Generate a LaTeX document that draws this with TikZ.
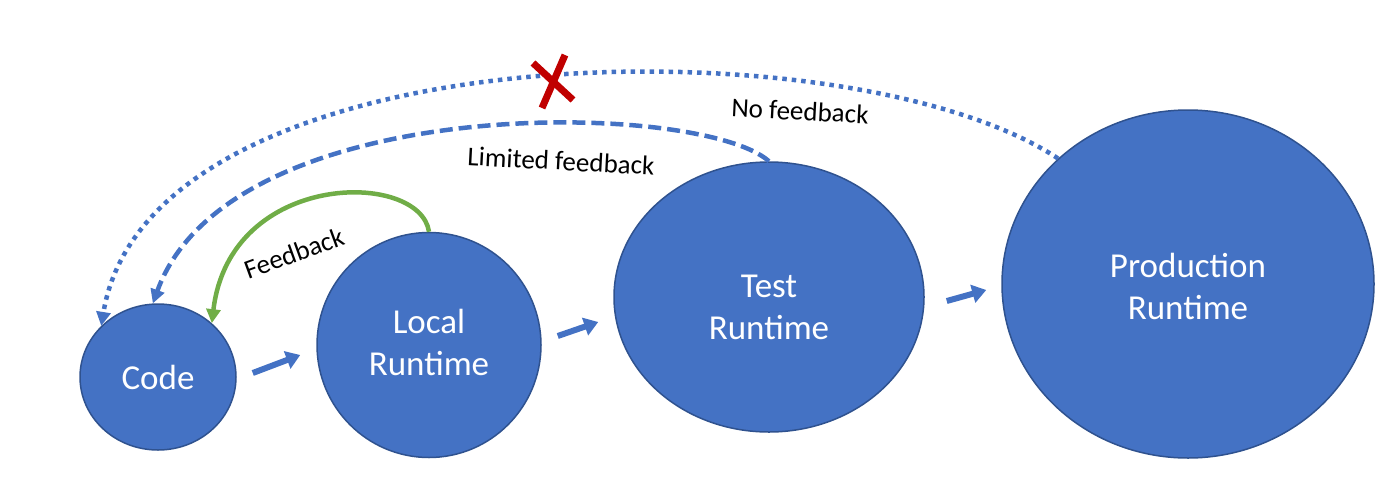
\documentclass[tikz,border=0pt]{standalone}
\usepackage{fontspec}
\setmainfont{Carlito}
\usetikzlibrary{shapes.geometric,arrows.meta}
\definecolor{ofill}{HTML}{4472C4}
\definecolor{oedge}{HTML}{2F528F}
\definecolor{ogreen}{HTML}{70AD47}
\definecolor{ored}{HTML}{C00000}
\tikzset{
  stage/.style={ellipse, fill=ofill, draw=oedge, line width=1.5pt, text=white, align=center, inner sep=0pt,
    font=\fontsize{35}{42}\selectfont},
  blockarr/.style={draw=ofill, line width=6pt, -{Triangle[length=14pt,width=18pt]}},
  fbline/.style={line width=4.5pt, -{Triangle[length=14pt,width=14pt]}},
  lbl/.style={font=\fontsize{27}{30}\selectfont, text=black, inner sep=0pt},
}
\begin{document}
\begin{tikzpicture}[x=1pt,y=-1pt]
\useasboundingbox (0,0) rectangle (1400,488);
\node[stage, minimum width=156pt, minimum height=146pt] (code) at (158,377) {Code};
\node[stage, minimum width=224pt, minimum height=225pt] (local) at (429,345) {};
\node[stage, minimum width=310pt, minimum height=270pt] (test) at (769,297) {};
\node[stage, minimum width=372pt, minimum height=348pt] (prod) at (1188,284) {};
\node[stage, fill=none, draw=none] (localt) at (429,342) {Local\\Runtime};
\node[stage, fill=none, draw=none] (testt) at (769,307) {Test\\Runtime};
\node[stage, fill=none, draw=none] (prodt) at (1188,286) {Production\\Runtime};
% block arrows
\draw[blockarr] ([shift={(16,-4)}]code.east) -- ([shift={(-16,10)}]local.west);
\draw[blockarr] ([shift={(16,-9)}]local.east) -- ([shift={(-15,25)}]test.west);
\draw[blockarr] ([shift={(22,4)}]test.east) -- ([shift={(-15,6)}]prod.west);
% feedback loops
\draw[fbline, draw=ogreen, ogreen] (local.90) .. controls (420,170) and (230,170) .. (code.45);
\draw[fbline, draw=ofill, ofill, dash pattern=on 13pt off 6pt] (test.90) .. controls (700,100) and (230,90) .. (code.94);
\draw[fbline, draw=ofill, ofill, dash pattern=on 4.5pt off 5pt] (prod.136) .. controls (850,20) and (150,30) .. (code.138);
% red cross
\coordinate (xc) at (553,82);
\draw[ored, line width=7pt] ([shift={(-20,-19)}]xc) -- ([shift={(20,18)}]xc);
\draw[ored, line width=7pt] ([shift={(12,-27)}]xc) -- ([shift={(-11,26)}]xc);
% labels
\node[lbl, rotate=20] (lfb) at (294,253) {Feedback};
\node[lbl, rotate=-3] (llim) at (561,161) {Limited feedback};
\node[lbl, rotate=-3] (lno) at (800,111) {No feedback};
\end{tikzpicture}
\end{document}
